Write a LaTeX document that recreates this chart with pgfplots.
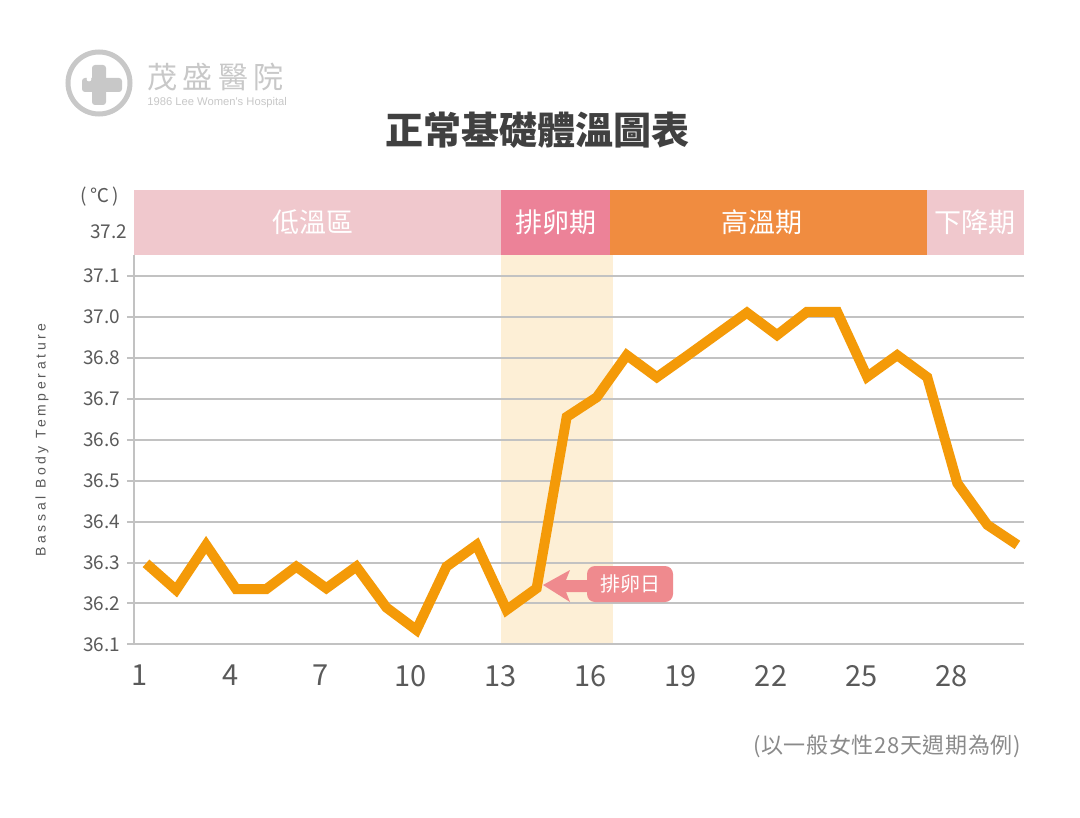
\documentclass[border=0pt]{standalone}
\usepackage{fontspec}
\setmainfont{Noto Sans CJK TC}
\newfontfamily\spacedfont[LetterSpace=26]{Liberation Sans}
\newfontfamily\logofont[LetterSpace=18]{Noto Sans CJK TC}
\newfontfamily\footfont[LetterSpace=3]{Noto Sans CJK TC}
\newfontfamily\smalllatin{Liberation Sans}
\usepackage{pgfplots}
\pgfplotsset{compat=1.18}
\definecolor{bandpink}{HTML}{F0C8CD}
\definecolor{ovpink}{HTML}{EC8298}
\definecolor{bandorange}{HTML}{F08C40}
\definecolor{cream}{HTML}{FDEFD6}
\definecolor{lineorange}{HTML}{F49A08}
\definecolor{gridgray}{HTML}{C2C2C2}
\definecolor{labelgray}{HTML}{5A5A5A}
\definecolor{boxpink}{HTML}{EF8A8E}
\definecolor{logogray}{HTML}{C8C8C8}
\definecolor{titlegray}{HTML}{404040}
\definecolor{footgray}{HTML}{8A8A8A}

\pgfplotstableread{
day temp
1 36.298
2 36.233
3 36.343
4 36.235
5 36.235
6 36.290
7 36.237
8 36.290
9 36.190
10 36.135
11 36.290
12 36.343
13 36.184
14 36.237
15 36.656
16 36.704
17 36.807
18 36.753
19 36.805
20 36.858
21 36.911
22 36.856
23 36.913
24 36.913
25 36.754
26 36.807
27 36.753
28 36.494
29 36.392
30 36.343
}\bbtdata

\begin{document}
\begin{tikzpicture}
\fill[white] (0pt,0pt) rectangle (540pt,-409pt);

\begin{axis}[
  at={(67pt,-322.5pt)}, anchor=south west,
  scale only axis, width=445pt, height=227.5pt,
  xmin=0.6, xmax=30.22, ymin=36.0983, ymax=37.2108,
  axis line style={draw=none},
  clip=false,
  /pgf/number format/assume math mode=true,
  ytick={36.1,36.2,36.3,36.4,36.5,36.6,36.7,36.8,36.9,37.0},
  yticklabels={36.1,36.2,36.3,36.4,36.5,36.6,36.7,36.8,37.0,37.1},
  extra y ticks={37.11},
  extra y tick labels={37.2},
  extra y tick style={major tick length=0pt, ymajorgrids=false},
  ymajorgrids,
  grid style={draw=gridgray, line width=1pt},
  ytick style={draw=gridgray, line width=1pt},
  major tick length=3.5pt,
  tick align=outside,
  ytick pos=left,
  yticklabel style={font=\fontsize{9.5}{10}\selectfont, text=labelgray},
  xtick={1,4,7,10,13,16,19,22,25,28},
  xtick style={draw=none},
  xticklabel style={font=\fontsize{14.5}{15}\selectfont, text=labelgray, xshift=-3pt, yshift=-3pt},
]
\fill[cream] (axis cs:12.81,36.0983) rectangle (axis cs:16.54,37.052);
\draw[gridgray, line width=1pt] (axis cs:12.81,36.1) -- (axis cs:16.54,36.1);
\draw[gridgray, line width=1pt] (axis cs:12.81,36.2) -- (axis cs:16.54,36.2);
\draw[gridgray, line width=1pt] (axis cs:12.81,36.3) -- (axis cs:16.54,36.3);
\draw[gridgray, line width=1pt] (axis cs:12.81,36.4) -- (axis cs:16.54,36.4);
\draw[gridgray, line width=1pt] (axis cs:12.81,36.5) -- (axis cs:16.54,36.5);
\draw[gridgray, line width=1pt] (axis cs:12.81,36.6) -- (axis cs:16.54,36.6);
\draw[gridgray, line width=1pt] (axis cs:12.81,36.7) -- (axis cs:16.54,36.7);
\draw[gridgray, line width=1pt] (axis cs:12.81,36.8) -- (axis cs:16.54,36.8);
\draw[gridgray, line width=1pt] (axis cs:12.81,36.9) -- (axis cs:16.54,36.9);
\draw[gridgray, line width=1pt] (axis cs:12.81,37.0) -- (axis cs:16.54,37.0);
\draw[gridgray, line width=1pt] (axis cs:0.6,36.0983) -- (axis cs:0.6,37.052);
\fill[bandpink] (axis cs:0.6,37.052) rectangle (axis cs:12.81,37.2108);
\fill[ovpink] (axis cs:12.81,37.052) rectangle (axis cs:16.44,37.2108);
\fill[bandorange] (axis cs:16.44,37.052) rectangle (axis cs:26.99,37.2108);
\fill[bandpink] (axis cs:26.99,37.052) rectangle (axis cs:30.22,37.2108);
\node[white, font=\fontsize{13.5}{14}\selectfont] at (axis cs:6.55,37.131) {低溫區};
\node[white, font=\fontsize{13.5}{14}\selectfont] at (axis cs:14.63,37.131) {排卵期};
\node[white, font=\fontsize{13.5}{14}\selectfont] at (axis cs:21.5,37.131) {高溫期};
\node[white, font=\fontsize{13.5}{14}\selectfont] at (axis cs:28.6,37.131) {下降期};
\addplot[lineorange, line width=5pt] table[x=day, y=temp] {\bbtdata};
\end{axis}

% annotation
\fill[boxpink] (271.5pt,-292.5pt) -- (285pt,-285pt) -- (283pt,-290pt) -- (295pt,-290pt) -- (295pt,-296pt) -- (283pt,-296pt) -- (285pt,-301pt) -- cycle;
\fill[boxpink, rounded corners=4pt] (293.5pt,-283pt) rectangle (336.5pt,-301pt);
\node[white, font=\fontsize{10}{11}\selectfont] at (315pt,-292pt) {排卵日};

% title and notes
\node[titlegray, font=\fontsize{19}{20}\selectfont\bfseries] at (268.5pt,-65pt) {正常基礎體溫圖表};
\node[labelgray, font=\fontsize{9.5}{10}\selectfont] at (50pt,-98.5pt) {(\,℃\,)};
\node[labelgray, rotate=90, font=\spacedfont\fontsize{7}{8}\selectfont] at (21pt,-220pt) {Bassal Body Temperature};
\node[footgray, anchor=east, font=\footfont\fontsize{11}{12}\selectfont] at (514pt,-373pt) {(以一般女性28天週期為例)};

% logo
\draw[logogray, line width=2.5pt] (49.5pt,-41.5pt) circle (15.5pt);
\fill[logogray, rounded corners=1.5pt] (46pt,-32.5pt) rectangle (53pt,-52.5pt);
\fill[logogray, rounded corners=1.5pt] (41pt,-39pt) rectangle (61pt,-46pt);
\fill[white] (44.5pt,-39.5pt) circle (1.2pt);
\node[logogray, anchor=west, inner sep=0pt, font=\logofont\fontsize{15}{16}\selectfont] at (73.5pt,-38.5pt) {茂盛醫院};
\node[logogray, anchor=west, inner sep=0pt, font=\smalllatin\fontsize{5.6}{6}\selectfont] at (73.5pt,-51.5pt) {1986 Lee Women's Hospital};
\end{tikzpicture}
\end{document}
